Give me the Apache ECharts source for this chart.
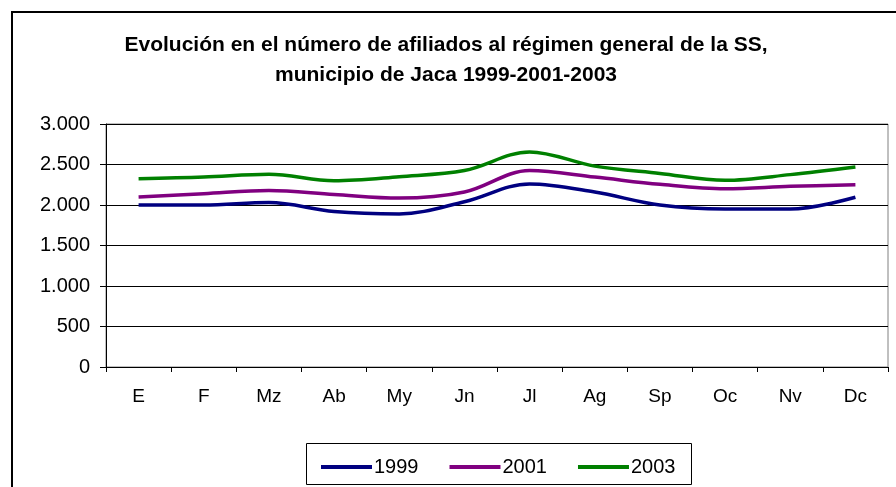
<!DOCTYPE html>
<html>
<head>
<meta charset="utf-8">
<script src="https://cdn.jsdelivr.net/npm/echarts@6/dist/echarts.min.js"></script>
<style>
  html, body { margin: 0; padding: 0; background: #fff; }
  #chart { width: 896px; height: 487px; }
</style>
</head>
<body>
<div id="chart"></div>
<script>
var months = ['E', 'F', 'Mz', 'Ab', 'My', 'Jn', 'Jl', 'Ag', 'Sp', 'Oc', 'Nv', 'Dc'];
var yearNames = ['1999', '2001', '2003'];
var data1999 = [2000, 2000, 2030, 1920, 1890, 2040, 2260, 2160, 2000, 1950, 1950, 2095];
var data2001 = [2100, 2140, 2180, 2130, 2085, 2160, 2425, 2345, 2255, 2200, 2230, 2250];
var data2003 = [2325, 2345, 2380, 2300, 2350, 2425, 2655, 2480, 2390, 2305, 2375, 2470];
var lineColors = ['#000080', '#800080', '#008000'];

var myChart = echarts.init(document.getElementById('chart'));

function fmtMiles(v) {
	// 3000 -> 3.000
	return String(v).replace(/\B(?=(\d{3})+(?!\d))/g, '.');
}

function makeSeries(name, values, color) {
	return {
		name: name,
		type: 'line',
		data: values,
		smooth: 0.35,
		symbol: 'none',
		color: color,
		lineStyle: { width: 3.5, color: color }
	};
}

myChart.setOption({
	animation: false,
	textStyle: { fontFamily: 'Liberation Sans, Arial, sans-serif' },
	graphic: [
		{
			type: 'rect',
			shape: { x: 12, y: 12, width: 900, height: 500 },
			style: { fill: 'none', stroke: '#000', lineWidth: 2 }
		},
		{
			type: 'rect',
			shape: { x: 306.5, y: 443.5, width: 385, height: 41 },
			style: { fill: 'none', stroke: '#000', lineWidth: 1 }
		}
	],
	title: {
		text: 'Evolución en el número de afiliados al régimen general de la SS,\nmunicipio de Jaca 1999-2001-2003',
		left: 441,
		top: 25,
		textAlign: 'center',
		textStyle: {
			fontSize: 21,
			fontWeight: 'bold',
			color: '#000',
			lineHeight: 30,
			fontFamily: 'Liberation Sans, Arial, sans-serif'
		}
	},
	legend: {
		left: 316,
		top: 452,
		itemWidth: 51,
		itemHeight: 4,
		itemGap: 31,
		icon: 'rect',
		data: yearNames,
		textStyle: { fontSize: 20, color: '#000', padding: [0, 0, 0, -3] }
	},
	grid: {
		left: 106,
		right: 8,
		top: 124,
		bottom: 120,
		show: true,
		borderColor: '#808080',
		borderWidth: 1
	},
	xAxis: {
		type: 'category',
		data: months,
		boundaryGap: true,
		axisLine: { lineStyle: { color: '#000', width: 1 } },
		axisTick: { show: true, length: 5, lineStyle: { color: '#000' } },
		axisLabel: { color: '#000', fontSize: 19, margin: 20 }
	},
	yAxis: {
		type: 'value',
		min: 0,
		max: 3000,
		interval: 500,
		axisLine: { show: true, lineStyle: { color: '#000', width: 1 } },
		axisTick: { show: true, length: 6, lineStyle: { color: '#000' } },
		axisLabel: { color: '#000', fontSize: 20, margin: 16, formatter: fmtMiles },
		splitLine: { show: true, lineStyle: { color: '#000', width: 1 } }
	},
	series: [
		makeSeries(yearNames[0], data1999, lineColors[0]),
		makeSeries(yearNames[1], data2001, lineColors[1]),
		makeSeries(yearNames[2], data2003, lineColors[2])
	]
});
</script>
</body>
</html>
